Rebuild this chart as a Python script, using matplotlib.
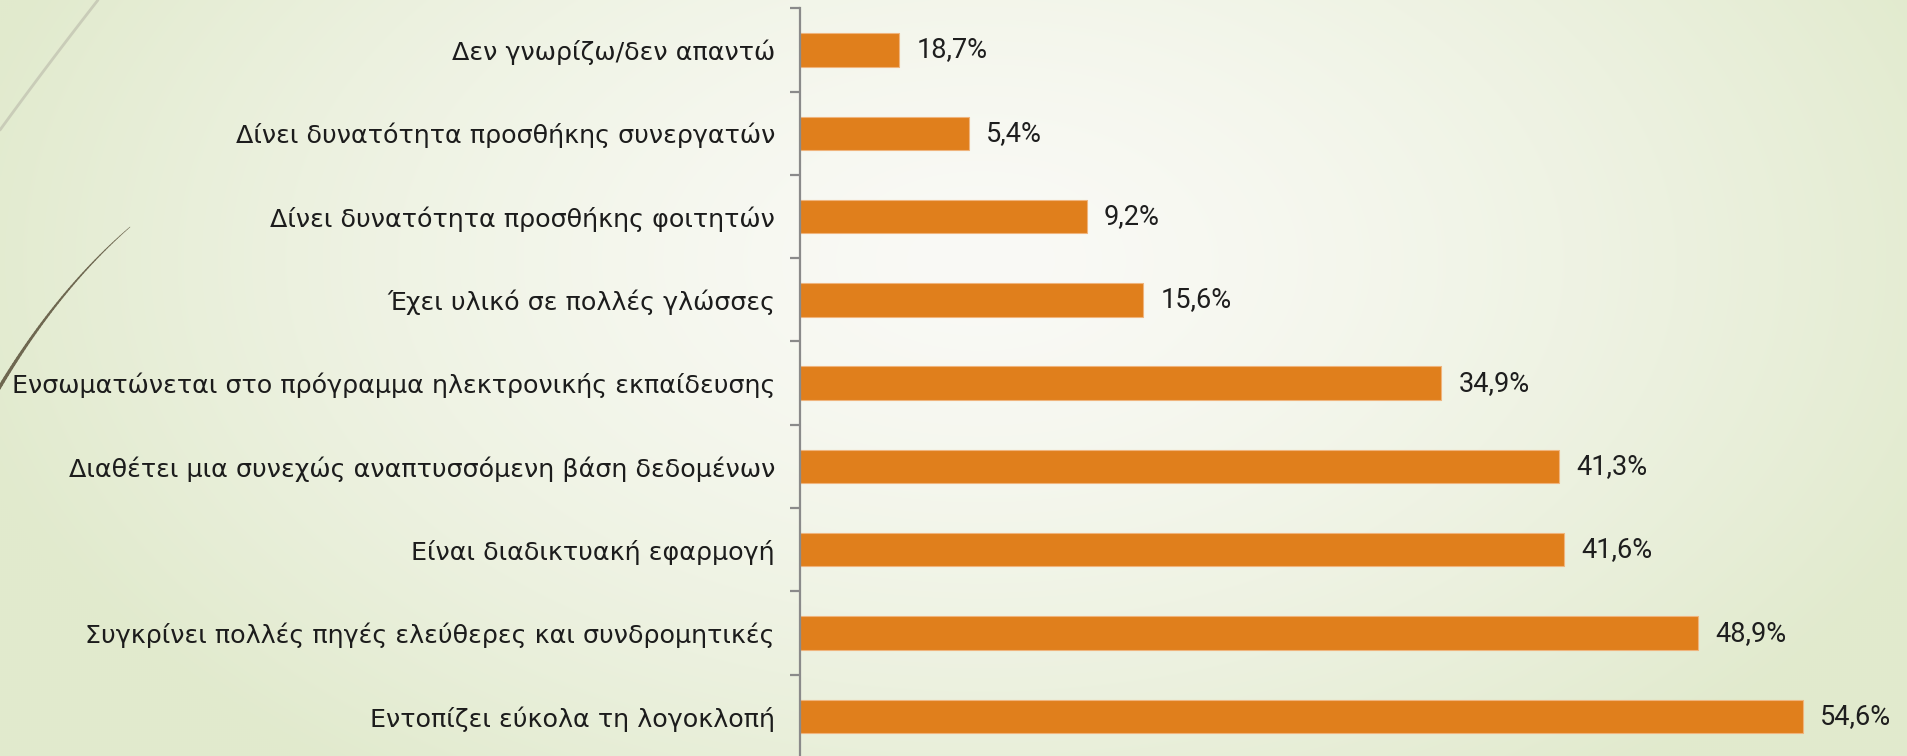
import numpy as np
import matplotlib
matplotlib.use('Agg')
import matplotlib.pyplot as plt
from matplotlib.collections import LineCollection

categories = [
    'Δεν γνωρίζω/δεν απαντώ',
    'Δίνει δυνατότητα προσθήκης συνεργατών',
    'Δίνει δυνατότητα προσθήκης φοιτητών',
    'Έχει υλικό σε πολλές γλώσσες',
    'Ενσωματώνεται στο πρόγραμμα ηλεκτρονικής εκπαίδευσης',
    'Διαθέτει μια συνεχώς αναπτυσσόμενη βάση δεδομένων',
    'Είναι διαδικτυακή εφαρμογή',
    'Συγκρίνει πολλές πηγές ελεύθερες και συνδρομητικές',
    'Εντοπίζει εύκολα τη λογοκλοπή',
]
# bar lengths as drawn in the reference (top to bottom)
bar_values = [5.4, 9.2, 15.6, 18.7, 34.9, 41.3, 41.6, 48.9, 54.6]
# data labels as printed in the reference
value_labels = ['18,7%', '5,4%', '9,2%', '15,6%', '34,9%', '41,3%', '41,6%', '48,9%', '54,6%']

W, H = 1908, 756
fig = plt.figure(figsize=(W / 100, H / 100), dpi=100)

# ---- background gradient ----
bg = fig.add_axes([0, 0, 1, 1], zorder=0)
yy, xx = np.mgrid[0:H:2, 0:W:2]
cx, cy = 980, 260
r = np.sqrt(((xx - cx) / 1050.0) ** 2 + ((yy - cy) / 650.0) ** 2)
t = np.clip(r, 0, 1) ** 1.4
c0 = np.array([250, 250, 246]) / 255
c1 = np.array([225, 234, 205]) / 255
img = c0 + (c1 - c0) * t[..., None]
bg.imshow(img, extent=[0, W, H, 0], aspect='auto', interpolation='bilinear')
bg.set_xlim(0, W)
bg.set_ylim(H, 0)
bg.axis('off')

def bezier(p0, p1, p2, n=60):
    s = np.linspace(0, 1, n)[:, None]
    return (1 - s) ** 2 * np.array(p0) + 2 * (1 - s) * s * np.array(p1) + s ** 2 * np.array(p2)

# decorative strokes
pts = bezier((0, 130), (45, 68), (98, 0))
bg.plot(pts[:, 0], pts[:, 1], color='#c9ccb8', lw=2.0, solid_capstyle='round')
pts = bezier((130, 227), (55, 292), (-5, 395))
segs = np.stack([pts[:-1], pts[1:]], axis=1)
widths = np.linspace(0.4, 2.6, len(segs))
bg.add_collection(LineCollection(segs, linewidths=widths, colors='#6e6750', capstyle='round'))

# ---- main chart ----
ax = fig.add_axes([800 / W, -2 / H, 1102 / W, 749.7 / H], zorder=1)
ax.patch.set_alpha(0)
y = np.arange(len(categories))
ax.barh(y, bar_values, height=0.4, color='#e07f1c', edgecolor='#f0b47c', linewidth=0.8)
ax.set_xlim(0, 60)
ax.set_ylim(len(categories) - 0.5, -0.5)

for s in ['top', 'right', 'bottom']:
    ax.spines[s].set_visible(False)
ax.spines['left'].set_color('#8a8a8a')
ax.spines['left'].set_linewidth(1.6)
ax.set_xticks([])
ax.set_yticks(y, categories)
ax.set_yticks(np.arange(-0.5, len(categories), 1.0), minor=True)
ax.tick_params(axis='y', which='major', length=0, pad=18)
ax.tick_params(axis='y', which='minor', length=7.5, width=1.6, color='#8a8a8a')
for lab in ax.get_yticklabels():
    lab.set_fontsize(18.3)
    lab.set_fontfamily(['DejaVu Sans'])
    lab.set_color('#1c1c1c')

for yi, v, txt in zip(y, bar_values, value_labels):
    ax.annotate(txt, (v, yi), xytext=(12.5, 0), textcoords='offset points',
                va='center', ha='left', fontsize=19.5, color='#1e1e1e',
                family=['Roboto', 'DejaVu Sans'])

fig.savefig('out.png', dpi=100)
